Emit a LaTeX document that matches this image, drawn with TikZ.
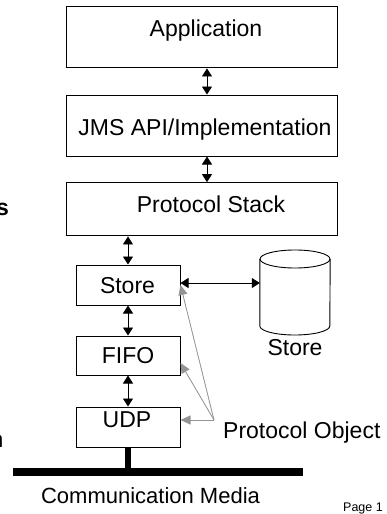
\documentclass[tikz,border=0pt]{standalone}
\usepackage{fontspec}
\setmainfont{Liberation Sans}
\usetikzlibrary{arrows.meta}

\begin{document}
\begin{tikzpicture}[x=1pt, y=-1pt,
  box/.style={draw, line width=1pt, rectangle, inner sep=0pt},
  txt/.style={inner sep=0pt, anchor=base, font=\fontsize{23}{27}\selectfont},
  dbl/.style={{Triangle[length=8pt,width=10pt]}-{Triangle[length=8pt,width=10pt]}, line width=0.8pt},
  ptr/.style={-{Triangle[length=10pt,width=9pt]}, draw=black!42, fill=black!42, line width=0.8pt}]
\useasboundingbox (0,0) rectangle (386,514);
\clip (0,0) rectangle (386,514);
\fill[white] (0,0) rectangle (386,514);

% upper layers
\node[box, minimum width=271.3pt, minimum height=61.3pt] (app) at (202.3,37.3) {};
\node[txt] (appt) at (206,36) {Application};
\node[box, minimum width=271.3pt, minimum height=61pt] (jms) at (202.3,125.5) {};
\node[txt] (jmst) at (205,135) {JMS API/Implementation};
\node[box, minimum width=271.3pt, minimum height=53.3pt] (ps) at (202.3,209.3) {};
\node[txt] (pst) at (211,212) {Protocol Stack};

% protocol objects
\node[box, minimum width=104pt, minimum height=40pt] (store) at (128,285) {};
\node[txt] (storet) at (127.5,293) {Store};
\node[box, minimum width=104pt, minimum height=39pt] (fifo) at (128,355.5) {};
\node[txt] (fifot) at (128,363) {FIFO};
\node[box, minimum width=104pt, minimum height=40pt] (udp) at (128,427) {};
\node[txt] (udpt) at (127,427) {UDP};

% persistent store
\node[inner sep=0pt, minimum width=70pt, minimum height=85pt] (cyl) at (295,292.5) {};
\draw[line width=0.9pt, fill=white]
  ([yshift=33.5pt]cyl.west) -- ([yshift=-33.5pt]cyl.west)
  arc[start angle=180, end angle=360, x radius=35pt, y radius=9pt]
  -- ([yshift=33.5pt]cyl.east);
\draw[line width=0.9pt] ([yshift=33.5pt]cyl.center) ellipse[x radius=35pt, y radius=9pt];
\node[txt] (cylt) at (295,355) {Store};

% network
\node[fill=black, inner sep=0pt, minimum width=290pt, minimum height=8pt] (bar) at (158,472) {};
\draw[line width=6pt] (udp.south) -- (udp.south |- bar.north);
\node[txt, font=\fontsize{22}{26}\selectfont] (media) at (150.5,503) {Communication Media};
\node[inner sep=0pt, anchor=base west, font=\fontsize{12.5}{15}\selectfont] (page) at (343,511.5) {Page 1};

% stack connectors
\draw[dbl] ([xshift=4.7pt]app.south) -- ([xshift=4.7pt]jms.north);
\draw[dbl] ([xshift=4.7pt]jms.south) -- ([xshift=4.7pt]ps.north);
\draw[dbl] (ps.south -| store.north) -- (store.north);
\draw[dbl] (store.south) -- (fifo.north);
\draw[dbl] (fifo.south) -- (udp.north);
\draw[dbl] ([yshift=2pt]store.east) -- ([yshift=2pt]store.east -| cyl.west);

% protocol object callouts
\node[txt, anchor=base west] (pot) at (223,438) {Protocol Object};
\coordinate (po) at (214,420);
\draw[ptr] (po) -- (store.east);
\draw[ptr] (po) -- ([yshift=-7.5pt]fifo.east);
\draw[ptr] (po) -- ([yshift=7pt]udp.east);

% text running in from the left margin
\node[txt, anchor=base east, font=\fontsize{23}{27}\selectfont\bfseries] (lefts) at (9,215) {s};
\node[txt, anchor=base east] (leftn) at (3.6,447) {n};
\end{tikzpicture}
\end{document}
